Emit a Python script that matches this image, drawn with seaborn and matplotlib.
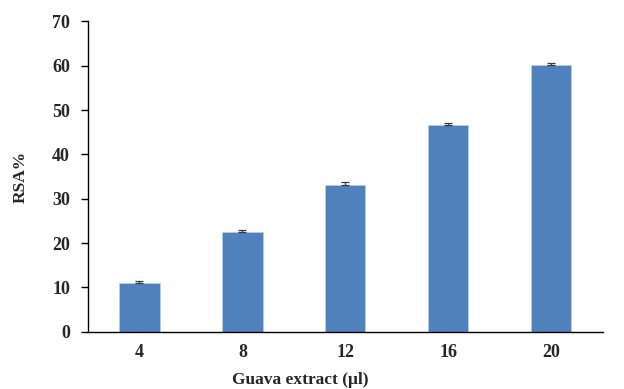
import numpy as np
import pandas as pd
import matplotlib
matplotlib.use("Agg")
import matplotlib.pyplot as plt
import seaborn as sns
from matplotlib.ticker import FixedLocator

# data
doses = ["4", "8", "12", "16", "20"]
rsa = [11.0, 22.4, 33.2, 46.6, 60.1]
rsa_err = [0.5, 0.45, 0.6, 0.6, 0.6]

df = pd.DataFrame({"dose": doses, "rsa": rsa})

sns.set_style("white")
plt.rcParams["font.family"] = ["Liberation Serif", "DejaVu Serif"]
plt.rcParams["font.weight"] = "bold"

fig = plt.figure(figsize=(6.24, 3.89), dpi=100)
ax = fig.add_axes([0.141, 0.147, 0.825, 0.798])

sns.barplot(x="dose", y="rsa", data=df, color="#4F81BD", width=0.39,
            edgecolor="#B9CDE5", linewidth=0.6, saturation=1, errorbar=None, ax=ax)

# one-sided error bars
xpos = np.arange(len(doses))
ax.errorbar(xpos, rsa, yerr=[np.zeros(len(rsa)), rsa_err], fmt="none",
            ecolor="#3a3a3a", elinewidth=0.9, capsize=3.0, capthick=0.9)

ax.set_ylim(0, 70)
ax.set_yticks(range(0, 71, 10))
ax.set_xlim(-0.5, len(doses) - 0.5)

for s in ["top", "right"]:
    ax.spines[s].set_visible(False)
for s in ["left", "bottom"]:
    ax.spines[s].set_color("black")
    ax.spines[s].set_linewidth(1.0)

# ticks on category boundaries
ax.xaxis.set_minor_locator(FixedLocator(np.arange(-0.5, len(doses), 1.0)))
ax.tick_params(axis="x", which="major", length=0, pad=9, labelsize=13)
ax.tick_params(axis="x", which="minor", length=5, width=1, color="black", direction="out")
ax.tick_params(axis="y", which="major", length=5, width=1, color="black", direction="out",
               left=True, pad=8, labelsize=13)
for lab in ax.get_xticklabels() + ax.get_yticklabels():
    lab.set_fontweight("bold")

ax.set_xlabel("Guava extract (μl)", fontsize=12.5, fontweight="bold")
ax.xaxis.set_label_coords(0.412, -0.128)
ax.set_ylabel("RSA%", fontsize=12.5, fontweight="bold", labelpad=17)

fig.savefig("out.png", dpi=100)
